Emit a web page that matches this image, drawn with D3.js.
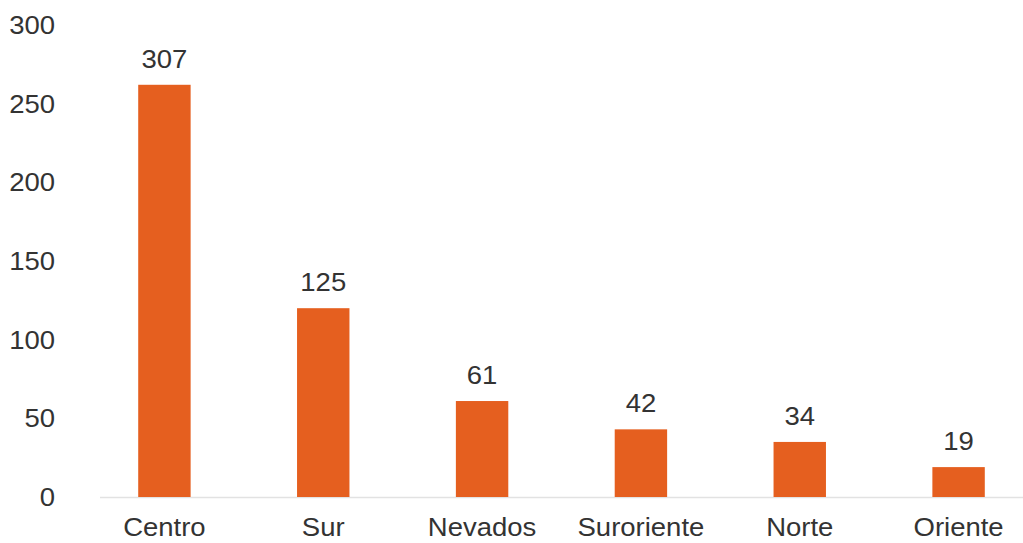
<!DOCTYPE html>
<html lang="es">
<head>
<meta charset="UTF-8">
<title>Bar chart</title>
<script src="https://cdn.jsdelivr.net/npm/d3@7"></script>
<style>
    body { margin: 0; background: #fff; }
    .lbl { fill: #333; font-family: "Liberation Sans", Arial, sans-serif; font-size: 25px; }
</style>
</head>
<body>
<svg id="main" width="1023" height="543"></svg>
<script>
    // data
    let zonas = ['Centro', 'Sur', 'Nevados', 'Suroriente', 'Norte', 'Oriente'];
    let barras = [262, 120, 61, 43, 35, 19];     // bar heights as drawn
    let etiquetas = [307, 125, 61, 42, 34, 19];  // printed labels
    let ticksY = [0, 50, 100, 150, 200, 250, 300];

    let svg = d3.select('svg#main');
    let naranja = '#e55f1f';

    let x = d3.scaleBand().domain(zonas).range([85, 1038]).paddingInner(0.67).paddingOuter(0.335);
    let y = d3.scaleLinear().domain([0, 300]).range([497, 25]);

    // stretched text helper (source image is a bit wide)
    function texto(g, tx, ty, anchor, str) {
        g.append('text')
            .attr('class', 'lbl')
            .attr('transform', 'translate(' + tx + ',' + ty + ') scale(1.1,1)')
            .attr('text-anchor', anchor)
            .text(str);
    }

    // y axis labels only
    let ejeY = svg.append('g');
    ticksY.forEach(function(t){ texto(ejeY, 55, y(t) + 9, 'end', t); });

    // baseline
    svg.append('line')
        .attr('x1', 100).attr('x2', 1023)
        .attr('y1', y(0) + 0.5).attr('y2', y(0) + 0.5)
        .attr('stroke', '#e2e2e2').attr('stroke-width', 1.5);

    svg.selectAll('rect.bar')
        .data(zonas)
        .enter()
        .append('rect')
        .attr('class', 'bar')
        .attr('x', function(d){ return x(d); })
        .attr('width', x.bandwidth())
        .attr('y', function(d, i){ return y(barras[i]); })
        .attr('height', function(d, i){ return y(0) - y(barras[i]); })
        .attr('fill', naranja);

    let etq = svg.append('g');
    zonas.forEach(function(d, i){
        let cx = x(d) + x.bandwidth() / 2;
        texto(etq, cx, y(barras[i]) - 17, 'middle', etiquetas[i]);
        texto(etq, cx, 536, 'middle', d);
    });
</script>
</body>
</html>
